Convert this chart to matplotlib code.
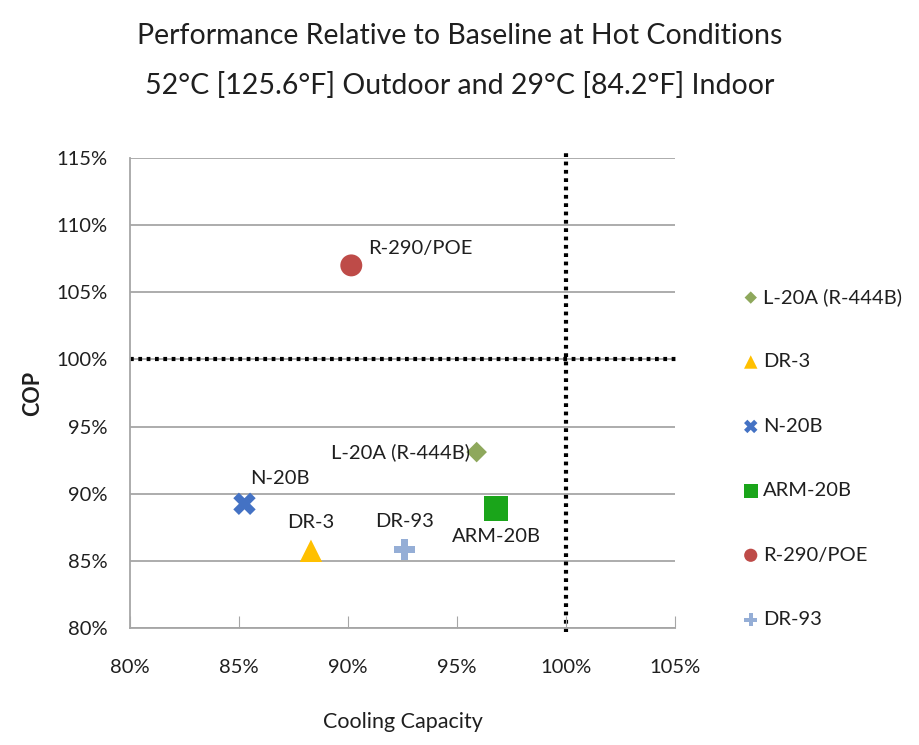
import matplotlib
matplotlib.use("Agg")
import numpy as np
from matplotlib import pyplot as plt
from matplotlib.ticker import FuncFormatter, MultipleLocator

plt.rcParams['font.family'] = ['Lato', 'DejaVu Sans']

# Data (percent of baseline)
names = ['L-20A (R-444B)', 'DR-3', 'N-20B', 'ARM-20B', 'R-290/POE', 'DR-93']
capacity = [95.9, 88.3, 85.25, 96.8, 90.15, 92.6]
cop = [93.1, 85.75, 89.25, 88.9, 107.0, 85.85]

markers = ['D', '^', 'X', 's', 'o', 'P']
colors = ['#8EA85C', '#FFC000', '#4472C4', '#1AA51A', '#BE4B48', '#95AED6']
sizes = [110, 260, 260, 300, 250, 230]

# label offsets in points (dx, dy) and alignment
offsets = [(-5, 0, 'right', 'center'), (0, 14, 'center', 'bottom'),
           (4, 12, 'left', 'bottom'), (0, -14, 'center', 'top'),
           (12, 6, 'left', 'bottom'), (0, 14, 'center', 'bottom')]

fig = plt.figure(figsize=(9.19, 7.45), dpi=100)
ax = fig.add_axes([0.1415, 0.157, 0.593, 0.631])

for y in np.arange(80, 116, 5):
    ax.axhline(y, color='#A6A6A6', lw=1.3, zorder=0)

dots = (0, (0.9, 1.1))
ax.plot([80, 105.1], [100, 100], linestyle=dots, color='black', lw=3,
        zorder=1, clip_on=False)
ax.plot([100, 100], [79.7, 115.6], linestyle=dots, color='black', lw=3,
        zorder=1, clip_on=False)

for i in range(len(names)):
    ax.scatter(capacity[i], cop[i], marker=markers[i], s=sizes[i],
               color=colors[i], edgecolor='none', label=names[i], zorder=3)
    dx, dy, ha, va = offsets[i]
    ax.annotate(names[i], (capacity[i], cop[i]), xytext=(dx, dy),
                textcoords='offset points', ha=ha, va=va, fontsize=14.5,
                color='#1f1f1f', zorder=4)

ax.set_xlim(80, 105)
ax.set_ylim(80, 115)
ax.xaxis.set_major_locator(MultipleLocator(5))
ax.yaxis.set_major_locator(MultipleLocator(5))
pct = FuncFormatter(lambda v, p: '%d%%' % round(v))
ax.xaxis.set_major_formatter(pct)
ax.yaxis.set_major_formatter(pct)
ax.tick_params(axis='x', direction='in', length=9, color='#A6A6A6',
               labelsize=14.5, pad=22, labelcolor='#1f1f1f')
ax.tick_params(axis='y', length=0, labelsize=14.5, pad=16,
               labelcolor='#1f1f1f')
for s in ['top', 'right']:
    ax.spines[s].set_visible(False)
for s in ['left', 'bottom']:
    ax.spines[s].set_color('#A6A6A6')
    ax.spines[s].set_linewidth(1.3)

ax.set_xlabel('Cooling Capacity', fontsize=15.5, labelpad=26, color='#1f1f1f')
ax.set_ylabel('COP', fontsize=15.5, fontweight='bold', labelpad=10,
              color='#1f1f1f')

fig.text(0.5, 0.952, 'Performance Relative to Baseline at Hot Conditions',
         ha='center', va='center', fontsize=20.5, color='#1f1f1f')
fig.text(0.5, 0.885, '52\u00b0C [125.6\u00b0F] Outdoor and 29\u00b0C [84.2\u00b0F] Indoor',
         ha='center', va='center', fontsize=20.5, color='#1f1f1f')

fig.legend(loc='upper left', bbox_to_anchor=(0.795, 0.627), frameon=False,
           fontsize=14.5, labelspacing=2.35, handletextpad=0.1,
           handlelength=1.0, borderpad=0, markerscale=0.6,
           labelcolor='#1f1f1f')

plt.savefig('out.png', dpi=100)
